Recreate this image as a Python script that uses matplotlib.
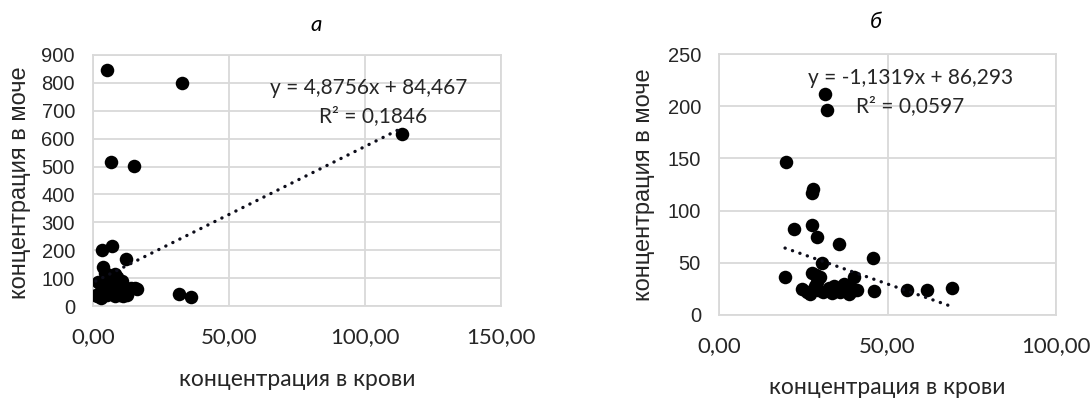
import matplotlib
matplotlib.use("Agg")
import matplotlib.pyplot as plt
from matplotlib.ticker import FixedLocator, FuncFormatter

# ---- data: panel а ----
blood_a = [5.1, 32.7, 6.6, 15.1, 113.5, 31.5, 36.0, 3.3, 7.0, 3.7, 12.0,
           4.5, 6.0, 8.0, 7.5, 9.0, 5.0, 2.0,
           1.0, 1.5, 2.5, 3.0, 4.0, 5.0, 6.0, 7.0, 8.0, 9.0, 10.0, 11.0,
           12.0, 13.0, 14.0, 15.5, 16.0, 9.5, 6.5, 4.0, 11.0, 12.5, 3.0,
           8.5, 10.5, 7.0]
urine_a = [848, 800, 515, 502, 618, 42, 33, 200, 215, 140, 168,
           120, 110, 115, 100, 105, 95, 85,
           40, 35, 45, 30, 50, 38, 60, 45, 35, 55, 40, 70,
           50, 60, 65, 65, 60, 80, 75, 70, 35, 40, 55,
           70, 90, 85]
slope_a, intercept_a, r2_a = 4.8756, 84.467, 0.1846

# ---- data: panel б ----
blood_b = [31.5, 32.1, 19.9, 28.0, 27.7, 22.4, 27.7, 29.2, 35.7, 45.8,
           19.6, 30.5, 28.9, 27.7, 40.0, 46.0, 55.9, 61.6, 69.0,
           24.5, 26.0, 27.0, 28.5, 29.5, 31.0, 32.5, 33.5, 35.0, 36.0,
           37.5, 38.5, 39.5, 41.0, 29.0, 34.0, 37.0, 30.0, 39.0]
urine_b = [212, 196, 147, 121, 117, 82, 86, 75, 68, 55,
           36, 50, 38, 40, 36, 23, 24, 24, 26,
           25, 22, 20, 28, 24, 22, 26, 21, 25, 22,
           24, 20, 23, 24, 32, 28, 30, 36, 27]
slope_b, intercept_b, r2_b = -1.1319, 86.293, 0.0597

x_ticks_a = [0, 50, 100, 150]
y_ticks_a = list(range(0, 901, 100))
x_ticks_b = [0, 50, 100]
y_ticks_b = list(range(0, 251, 50))

xlabel = "концентрация в крови"
ylabel = "концентрация в моче"

SANS_C = ["Lato", "Open Sans", "DejaVu Sans"]
SANS_A = ["Liberation Sans", "DejaVu Sans"]
GRID = "#d9d9d9"
TEXT = "#262626"


def ru_num(v, decimals):
    s = f"{abs(v):.{decimals}f}".replace(".", ",")
    return ("-" if v < 0 else "") + s


def panel(ax, bx, uy, slope, intercept, r2, xt, yt, eq_xy, r2_xy):
    ax.set_xlim(xt[0], xt[-1])
    ax.set_ylim(yt[0], yt[-1])
    ax.xaxis.set_major_locator(FixedLocator(xt))
    ax.yaxis.set_major_locator(FixedLocator(yt))
    ax.xaxis.set_major_formatter(FuncFormatter(lambda v, p: ru_num(v, 2)))
    ax.grid(True, color=GRID, linewidth=1.3)
    ax.set_axisbelow(True)
    for s in ax.spines.values():
        s.set_color(GRID)
        s.set_linewidth(1.3)
    ax.tick_params(axis="x", length=0, pad=15)
    ax.tick_params(axis="y", length=0, pad=13)
    for lab in ax.get_xticklabels():
        lab.set_family(SANS_C)
        lab.set_fontsize(16)
        lab.set_color(TEXT)
    for lab in ax.get_yticklabels():
        lab.set_family(SANS_A)
        lab.set_fontsize(14.5)
        lab.set_color(TEXT)
    ax.scatter(bx, uy, s=95, color="black", zorder=3, linewidths=0)
    x0, x1 = min(bx), max(bx)
    ax.plot([x0, x1], [slope * x0 + intercept, slope * x1 + intercept],
            color="#0d0d1a", linewidth=2.4, linestyle=(0, (0.05, 2.3)),
            dash_capstyle="round", zorder=4)
    sign = "+" if intercept >= 0 else "-"
    eq = f"y = {ru_num(slope, 4)}x {sign} {ru_num(abs(intercept), 3)}"
    ax.text(*eq_xy, eq, transform=ax.transAxes, ha="center", va="center",
            family=SANS_C, fontsize=15, color=TEXT, zorder=5)
    ax.text(*r2_xy, f"R² = {ru_num(r2, 4)}", transform=ax.transAxes,
            ha="center", va="center", family=SANS_C, fontsize=15,
            color=TEXT, zorder=5)


fig = plt.figure(figsize=(10.92, 3.98), dpi=100)

# panel а: plot area from x=93..501 px, y=55..306 px
ax_a = fig.add_axes([93 / 1092, (398 - 306) / 398, 408 / 1092, 251 / 398])
panel(ax_a, blood_a, urine_a, slope_a, intercept_a, r2_a,
      x_ticks_a, y_ticks_a,
      ((369 - 93) / 408, (306 - 88) / 251),
      ((373 - 93) / 408, (306 - 116) / 251))

# panel б: plot area from x=719..1056 px, y=54..315 px
ax_b = fig.add_axes([719 / 1092, (398 - 315) / 398, 337 / 1092, 261 / 398])
panel(ax_b, blood_b, urine_b, slope_b, intercept_b, r2_b,
      x_ticks_b, y_ticks_b,
      ((911 - 719) / 337, (315 - 78) / 261),
      ((910 - 719) / 337, (315 - 106) / 261))

# axis titles
fig.text(297 / 1092, 1 - 380 / 398, xlabel, ha="center", va="center",
         family=SANS_C, fontsize=16.5, color=TEXT)
fig.text(887 / 1092, 1 - 387 / 398, xlabel, ha="center", va="center",
         family=SANS_C, fontsize=16.5, color=TEXT)
fig.text(20 / 1092, 1 - 183 / 398, ylabel, ha="center", va="center",
         rotation=90, family=SANS_A, fontsize=17, color=TEXT)
fig.text(644 / 1092, 1 - 185 / 398, ylabel, ha="center", va="center",
         rotation=90, family=SANS_A, fontsize=17, color=TEXT)

# panel letters
fig.text(316 / 1092, 1 - 25 / 398, "а", ha="center", va="center",
         family=SANS_C, style="italic", fontsize=16, color="black")
fig.text(876 / 1092, 1 - 22 / 398, "б", ha="center", va="center",
         family=SANS_C, style="italic", fontsize=16, color="black")

fig.savefig("out.png", dpi=100)
